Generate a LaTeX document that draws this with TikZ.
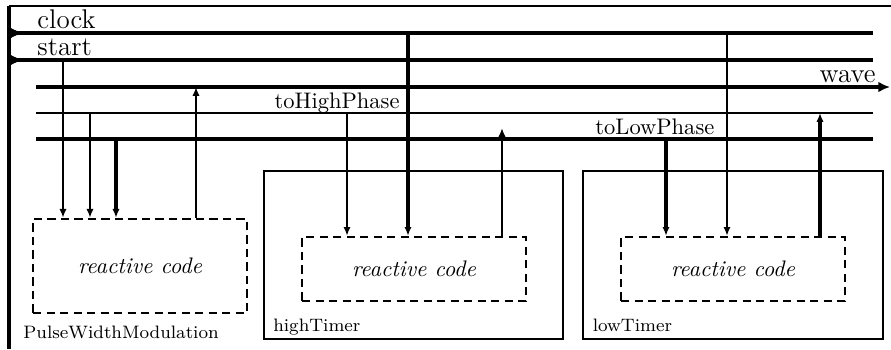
\documentclass[tikz,border=0pt]{standalone}
\usetikzlibrary{arrows.meta}

\begin{document}
\begin{tikzpicture}[x=0.4444pt, y=0.4444pt,
	bus/.style={line width=1.4pt},
	wire/.style={line width=0.9pt},
	arr/.style={-{Latex[length=3.9pt,width=3.2pt]}},
	outlet/.style={-{Latex[length=5.2pt,width=4.8pt]}},
	inlet/.style={-{Latex[length=5.5pt,width=4.6pt]}},
	code/.style={draw, dash pattern=on 3.6pt off 2.4pt, line width=1.1pt, font=\itshape, inner sep=0pt},
	comp/.style={draw, line width=0.9pt, minimum width=133pt, minimum height=74.7pt},
	sig/.style={font=\large, inner sep=0pt},
	cname/.style={font=\footnotesize, inner sep=0pt, anchor=base west}]
	\useasboundingbox (0,0) rectangle (891,349);
	\clip (0,0) rectangle (891,349);

	% frame
	\draw[line width=0.7pt] (9,343) -- (891,343);
	\draw[bus] (9,343) -- (9,0);

	% components
	\node[code, minimum width=95.1pt, minimum height=41.8pt] (pwm) at (140,83) {reactive code};
	\node[comp] (hiT) at (413.5,94) {};
	\node[comp] (loT) at (733,94) {};
	\node[code, minimum width=99.5pt, minimum height=28.4pt] (hi) at (414,80) {reactive code};
	\node[code, minimum width=99.5pt, minimum height=28.4pt] (lo) at (733,80) {reactive code};
	\node[cname] (pwmName) at (23,11) {PulseWidthModulation};
	\node[cname] (hiName) at ([shift={(10,9)}]hiT.south west) {highTimer};
	\node[cname] (loName) at ([shift={(10,9)}]loT.south west) {lowTimer};

	% signals
	\coordinate (clkW) at (9,316);  \coordinate (clkE) at (873,316);
	\coordinate (stW) at (9,289);   \coordinate (stE) at (873,289);
	\coordinate (wvW) at (36,262);  \coordinate (wvE) at (890,262);
	\coordinate (thW) at (36,236);  \coordinate (thE) at (873,236);
	\coordinate (tlW) at (36,210);  \coordinate (tlE) at (873,210);
	\draw[bus] (clkW) -- (clkE);
	\draw[bus] (stW) -- (stE);
	\draw[inlet] (clkW) -- ++(14,0);
	\draw[inlet] (stW) -- ++(14,0);
	\draw[bus, outlet] (wvW) -- (wvE);
	\draw[wire] (thW) -- (thE);
	\draw[bus] (tlW) -- (tlE);
	\node[sig, anchor=base west] (clkLbl) at ([shift={(28,5)}]clkW) {clock};
	\node[sig, anchor=base west] (stLbl) at ([shift={(28,5)}]stW) {start};
	\node[sig, anchor=base east] (wvLbl) at ([shift={(-14,5)}]wvE) {wave};
	\node[inner sep=0pt, anchor=base east] (thLbl) at (400,241) {toHighPhase};
	\node[inner sep=0pt, anchor=base west] (tlLbl) at (595,215) {toLowPhase};

	% taps
	\coordinate (pwmSt) at (63,289);
	\coordinate (pwmTh) at (90,236);
	\coordinate (pwmTl) at (116,210);
	\coordinate (pwmWv) at (196,262);
	\coordinate (hiTh) at (347,236);
	\coordinate (hiClk) at (408,316);
	\coordinate (hiOut) at (502,221);
	\coordinate (loTl) at (666,210);
	\coordinate (loClk) at (727,316);
	\coordinate (loTh) at (820,236);

	\draw[wire, arr] (pwmSt) -- (pwmSt |- pwm.north);
	\draw[wire, arr] (pwmTh) -- (pwmTh |- pwm.north);
	\draw[bus, arr] (pwmTl) -- (pwmTl |- pwm.north);
	\draw[wire, arr] (pwmWv |- pwm.north) -- (pwmWv);

	\draw[wire, arr] (hiTh) -- (hiTh |- hi.north);
	\draw[bus, arr] (hiClk) -- (hiClk |- hi.north);
	\draw[wire, arr] (hiOut |- hi.north) -- (hiOut);

	\draw[bus, arr] (loTl) -- (loTl |- lo.north);
	\draw[wire, arr] (loClk) -- (loClk |- lo.north);
	\draw[bus, arr] (loTh |- lo.north) -- (loTh);
\end{tikzpicture}
\end{document}
